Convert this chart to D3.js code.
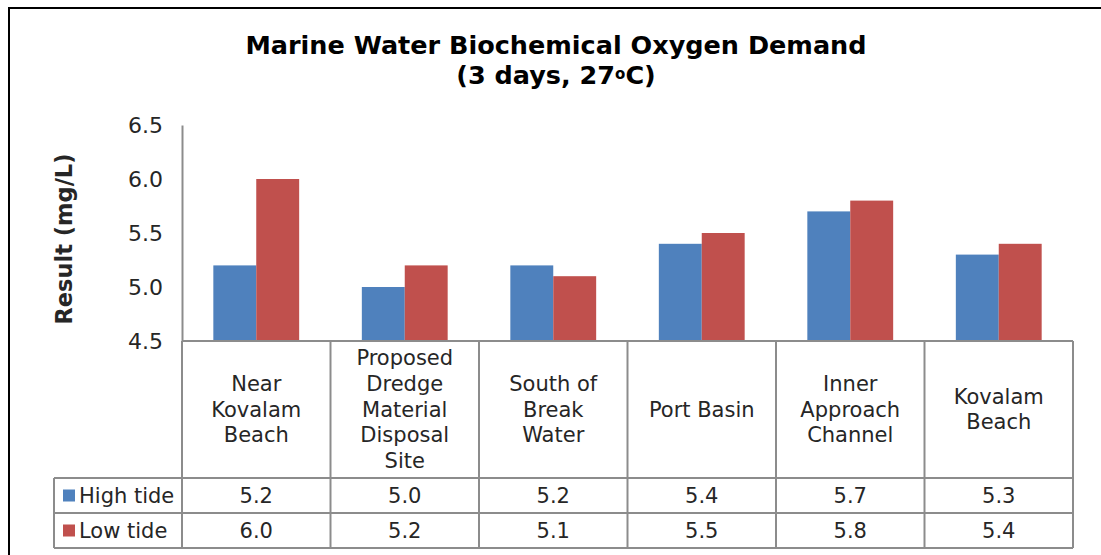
<!DOCTYPE html>
<html>
<head>
<meta charset="utf-8">
<script src="https://cdn.jsdelivr.net/npm/d3@7"></script>
<style>
    body { margin: 0; background: #fff; }
    text { font-family: "DejaVu Sans", Verdana, sans-serif; fill: #262626; }
    .title { font-weight: bold; fill: #000; }
    .tbl { stroke: #8c8c8c; stroke-width: 2; fill: none; }
</style>
</head>
<body>
<svg id="chart" width="1101" height="555"></svg>
<script>
var categories = [
    ["Near", "Kovalam", "Beach"],
    ["Proposed", "Dredge", "Material", "Disposal", "Site"],
    ["South of", "Break", "Water"],
    ["Port Basin"],
    ["Inner", "Approach", "Channel"],
    ["Kovalam", "Beach"]
];
var series_names = ["High tide", "Low tide"];
var high_tide = [5.2, 5.0, 5.2, 5.4, 5.7, 5.3];
var low_tide = [6.0, 5.2, 5.1, 5.5, 5.8, 5.4];
var y_ticks = [4.5, 5.0, 5.5, 6.0, 6.5];
var colors = ["#4f81bd", "#c0504d"];

var numForm = d3.format(".1f");

function draw() {
    var svg = d3.select("#chart");
    var left = 182, right = 1073, top = 125, bot = 341;
    var row_h = 35, cat_bot = 478, legend_left = 54;
    var values = [high_tide, low_tide];

    // outer frame
    svg.append("rect")
            .attr("x", 9).attr("y", 8)
            .attr("width", 1100).attr("height", 560)
            .attr("fill", "none").attr("stroke", "#000").attr("stroke-width", 2);

    svg.append("text").attr("class", "title")
            .attr("x", 556).attr("y", 54)
            .attr("text-anchor", "middle").style("font-size", "25.5px")
            .text("Marine Water Biochemical Oxygen Demand");
    var t2 = svg.append("text").attr("class", "title")
            .attr("x", 556).attr("y", 84)
            .attr("text-anchor", "middle").style("font-size", "25.5px");
    t2.append("tspan").text("(3 days, 27");
    t2.append("tspan").attr("dy", -5).style("font-size", "15px").text("o");
    t2.append("tspan").attr("dy", 5).text("C)");

    var x0 = d3.scaleBand().domain(d3.range(categories.length)).range([left, right]);
    var x1 = d3.scaleBand().domain(d3.range(series_names.length))
            .range([0, x0.bandwidth()]).paddingOuter(0.73);
    var y = d3.scaleLinear().domain([4.5, 6.5]).range([bot, top]);

    var yAxis = d3.axisLeft(y).tickValues(y_ticks).tickFormat(numForm)
            .tickSize(0).tickPadding(19);
    var ga = svg.append("g")
            .attr("transform", "translate(" + left + ",0)")
            .call(yAxis);
    ga.select(".domain").attr("stroke", "#8c8c8c").attr("stroke-width", 2);
    ga.selectAll("text").style("font-size", "22px").attr("fill", "#262626")
            .style("font-family", "DejaVu Sans, Verdana, sans-serif");

    svg.append("text")
            .attr("transform", "translate(72,239) rotate(-90)")
            .attr("text-anchor", "middle")
            .style("font-size", "22.5px").style("font-weight", "bold").attr("fill", "#000")
            .text("Result (mg/L)");

    // bars
    for (var s = 0; s < values.length; s++) {
        svg.append("g").selectAll("rect")
                .data(values[s])
                .enter().append("rect")
                .attr("x", function (d, i) { return x0(i) + x1(s); })
                .attr("y", function (d) { return y(d); })
                .attr("width", x1.bandwidth())
                .attr("height", function (d) { return bot - y(d); })
                .attr("fill", colors[s]);
    }

    // data table
    var tbl = svg.append("g");
    var tbl_bot = cat_bot + row_h * values.length;
    tbl.append("line").attr("class", "tbl")
            .attr("x1", left).attr("x2", right).attr("y1", bot).attr("y2", bot);
    for (var r = 0; r <= values.length; r++) {
        tbl.append("line").attr("class", "tbl")
                .attr("x1", legend_left).attr("x2", right)
                .attr("y1", cat_bot + r * row_h).attr("y2", cat_bot + r * row_h);
    }
    tbl.append("line").attr("class", "tbl")
            .attr("x1", legend_left).attr("x2", legend_left)
            .attr("y1", cat_bot).attr("y2", tbl_bot);
    for (var i = 0; i <= categories.length; i++) {
        var xx = i < categories.length ? x0(i) : right;
        tbl.append("line").attr("class", "tbl")
                .attr("x1", xx).attr("x2", xx)
                .attr("y1", bot).attr("y2", tbl_bot);
    }

    var line_h = 25.8;
    categories.forEach(function (lines, i) {
        var cx = x0(i) + x0.bandwidth() / 2;
        var y_start = (bot + cat_bot) / 2 - (lines.length - 1) * line_h / 2 + 7;
        var txt = tbl.append("text")
                .attr("text-anchor", "middle")
                .style("font-size", "21px");
        lines.forEach(function (l, k) {
            txt.append("tspan").attr("x", cx).attr("y", y_start + k * line_h).text(l);
        });
    });

    values.forEach(function (vals, s) {
        var ry = cat_bot + s * row_h + row_h / 2;
        tbl.append("rect")
                .attr("x", 63).attr("y", ry - 6)
                .attr("width", 12).attr("height", 12)
                .attr("fill", colors[s]);
        tbl.append("text")
                .attr("x", 79).attr("y", ry + 7)
                .style("font-size", "21px")
                .text(series_names[s]);
        vals.forEach(function (v, i) {
            tbl.append("text")
                    .attr("x", x0(i) + x0.bandwidth() / 2).attr("y", ry + 7)
                    .attr("text-anchor", "middle")
                    .style("font-size", "21px")
                    .text(numForm(v));
        });
    });
}
draw();
</script>
</body>
</html>
